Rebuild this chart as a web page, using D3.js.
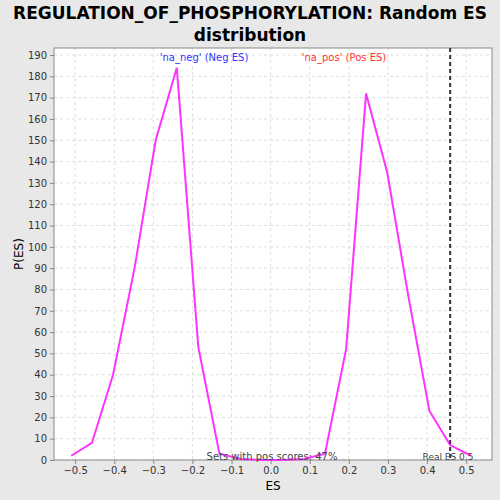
<!DOCTYPE html>
<html><head><meta charset="utf-8">
<script src="https://cdn.jsdelivr.net/npm/d3@7"></script>
<style>body{margin:0;background:#e8e8e8}</style></head>
<body><svg id="c" width="500" height="500"></svg>
<script>
const esValues = [-0.51, -0.457, -0.403, -0.348, -0.294, -0.240, -0.185, -0.131, -0.077, -0.023, 0.031, 0.085, 0.139, 0.193, 0.244, 0.298, 0.352, 0.406, 0.459, 0.512]
const densities = [2, 8, 40, 90, 150, 184, 53, 3, 0.5, 0, 0, 0.5, 3, 52, 172, 135, 77, 23, 7, 2]
const xTicks = [-0.5, -0.4, -0.3, -0.2, -0.1, 0, 0.1, 0.2, 0.3, 0.4, 0.5]
const yTicks = d3.range(0, 191, 10)
const realES = 0.459

const svg = d3.select('#c')
const m = { l: 54, r: 492, t: 48, b: 460 }
const x = d3.scaleLinear().domain([-0.554, 0.566]).range([m.l, m.r])
const y = d3.scaleLinear().domain([0, 193.3]).range([m.b, m.t])

svg.append('rect').attr('x', m.l).attr('y', m.t).attr('width', m.r - m.l).attr('height', m.b - m.t).attr('fill', '#fff')

// grid
svg.append('g').selectAll('line').data(xTicks).join('line')
  .attr('x1', d => x(d)).attr('x2', d => x(d)).attr('y1', m.t).attr('y2', m.b)
  .attr('stroke', '#ddd').attr('stroke-dasharray', '3,3')
svg.append('g').selectAll('line').data(yTicks).join('line')
  .attr('x1', m.l).attr('x2', m.r).attr('y1', d => y(d)).attr('y2', d => y(d))
  .attr('stroke', '#ddd').attr('stroke-dasharray', '3,3')

svg.append('rect').attr('x', m.l).attr('y', m.t).attr('width', m.r - m.l).attr('height', m.b - m.t)
  .attr('fill', 'none').attr('stroke', '#888')

const font = 'DejaVu Sans, sans-serif'
const xa = svg.append('g').attr('transform', `translate(0,${m.b})`)
  .call(d3.axisBottom(x).tickValues(xTicks).tickSize(4).tickFormat(d3.format('.1f')))
const ya = svg.append('g').attr('transform', `translate(${m.l},0)`)
  .call(d3.axisLeft(y).tickValues(yTicks).tickSize(4))
;[xa, ya].forEach(a => {
  a.select('.domain').remove()
  a.selectAll('line').attr('stroke', '#888')
  a.selectAll('text').attr('font-family', font).attr('font-size', 10).attr('fill', '#333')
})

svg.append('path').datum(esValues.map((d, i) => [d, densities[i]]))
  .attr('d', d3.line().x(d => x(d[0])).y(d => y(d[1])))
  .attr('fill', 'none').attr('stroke', '#ff33ff').attr('stroke-width', 2)

svg.append('line').attr('x1', x(realES)).attr('x2', x(realES)).attr('y1', m.t).attr('y2', m.b)
  .attr('stroke', '#333').attr('stroke-width', 2).attr('stroke-dasharray', '4,3')

const txt = (tx, ty, s, o) => svg.append('text').attr('x', tx).attr('y', ty).text(s)
  .attr('font-family', font).attr('font-size', o.size || 10).attr('fill', o.fill || '#333')
  .attr('text-anchor', o.anchor || 'middle').attr('font-weight', o.weight || 'normal')

txt(250, 19, 'REGULATION_OF_PHOSPHORYLATION: Random ES', { size: 17, weight: 'bold', fill: '#000' })
txt(250, 41, 'distribution', { size: 17, weight: 'bold', fill: '#000' })
txt(204, 61, "'na_neg' (Neg ES)", { fill: '#3333ff' })
txt(344, 61, "'na_pos' (Pos ES)", { fill: '#ff3333' })
txt(272, 460, 'Sets with pos scores: 47%', { fill: '#444' })
txt(448, 460, 'Real ES 0.5', { fill: '#444', size: 9 })
txt(273, 490, 'ES', { size: 12, fill: '#000' })
svg.append('text').attr('transform', 'translate(23,254) rotate(-90)').attr('text-anchor', 'middle')
  .attr('font-family', font).attr('font-size', 12).text('P(ES)')
</script></body></html>
